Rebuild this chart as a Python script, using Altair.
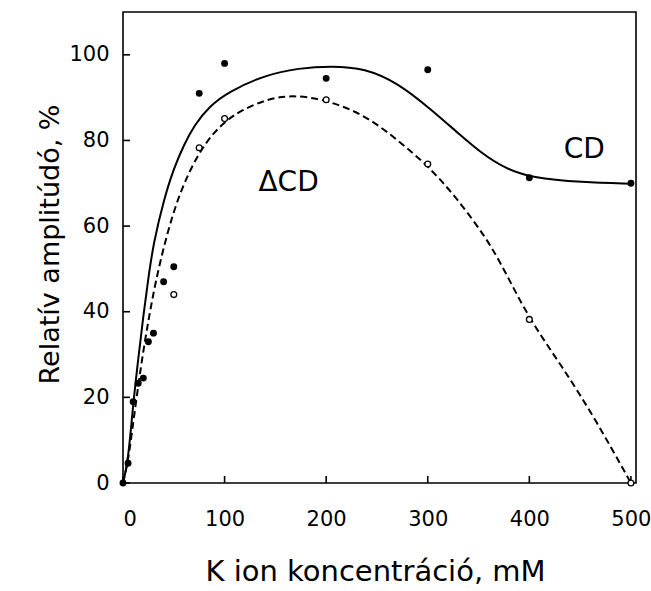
import altair as alt
import pandas as pd

# Measured points (K ion concentration, mM ; relative amplitude, %)
cd_x = [0, 5, 10, 15, 20, 25, 30, 40, 50, 75, 100, 200, 300, 400, 500]
cd_y = [0, 4.6, 19, 23.3, 24.5, 33, 35, 47, 50.5, 91, 98, 94.5, 96.5, 71.3, 70]

dcd_x = [50, 75, 100, 200, 300, 400, 500]
dcd_y = [44, 78.3, 85.1, 89.5, 74.5, 38.2, 0]

# Fitted curves
cd_curve_x = [0, 5, 10, 15, 20, 25, 30, 40, 50, 60, 70, 85, 104, 140, 173, 205,
              238, 271, 304, 330, 353, 376, 402, 452, 500]
cd_curve_y = [0, 5, 18.5, 29, 39, 48, 56, 66, 73.5, 79, 83.5, 88, 91.4, 95.3, 96.9,
              97.4, 96.9, 93.4, 87.1, 81.7, 77, 73.5, 71.3, 70.2, 69.9]

dcd_curve_x = [0, 5, 10, 18, 25, 32, 43, 56, 73, 88, 101, 116, 140, 166, 200, 238,
               271, 301, 327, 357, 375, 400, 433, 466, 500]
dcd_curve_y = [0, 5, 14, 28, 38, 47, 58, 68, 76.5, 81.5, 84.5, 87, 89.5, 90.7,
               89.5, 86, 80, 73.9, 67, 57.5, 50, 38.2, 27, 14.5, 0]

x_ticks = [0, 100, 200, 300, 400, 500]
y_ticks = [0, 20, 40, 60, 80, 100]

label_text = ["\u0394CD", "CD"]
label_x = [163, 454]
label_y = [70, 77.8]

FONT = "DejaVu Sans"
W, H = 513, 471
TICK = 7

xs = alt.Scale(domain=[0, 505], nice=False, zero=False)
ys = alt.Scale(domain=[0, 110], nice=False, zero=False)

x_axis = alt.Axis(values=x_ticks, ticks=False, tickSize=0, domain=False, grid=False,
                  labelFont=FONT, labelFontSize=21, labelColor="black", labelPadding=25,
                  labelBaseline="top",
                  title="K ion koncentráció, mM", titleFont=FONT, titleFontSize=29,
                  titleFontWeight="normal", titleColor="black",
                  titleBaseline="alphabetic", titleY=97, titleX=252)
y_axis = alt.Axis(values=y_ticks, ticks=False, tickSize=0, domain=False, grid=False,
                  labelFont=FONT, labelFontSize=21, labelColor="black", labelPadding=14,
                  title="Relatív amplitúdó, %", titleFont=FONT, titleFontSize=27,
                  titleFontWeight="normal", titleColor="black",
                  titleBaseline="alphabetic", titleX=-65, titleY=232)


def X(field="x"):
    return alt.X(f"{field}:Q", scale=xs, axis=x_axis, title="K ion koncentráció, mM")


def Y(field="y"):
    return alt.Y(f"{field}:Q", scale=ys, axis=y_axis, title="Relatív amplitúdó, %")


cd_pts = pd.DataFrame({"x": cd_x, "y": cd_y})
dcd_pts = pd.DataFrame({"x": dcd_x, "y": dcd_y})
cd_curve = pd.DataFrame({"x": cd_curve_x, "y": cd_curve_y})
dcd_curve = pd.DataFrame({"x": dcd_curve_x, "y": dcd_curve_y})
xt = pd.DataFrame({"x": x_ticks})
yt = pd.DataFrame({"y": y_ticks})
labels = pd.DataFrame({"x": label_x, "y": label_y, "t": label_text})

# inward-pointing ticks
xtick_layer = alt.Chart(xt).mark_rule(color="black", strokeWidth=1.6).encode(
    x=X(), y=alt.value(H), y2=alt.value(H - TICK))
ytick_layer = alt.Chart(yt).mark_tick(color="black", orient="horizontal", size=TICK,
                                      thickness=1.6, opacity=1).encode(
    y=Y(), x=alt.value(TICK / 2))

cd_line = alt.Chart(cd_curve).mark_line(color="black", strokeWidth=2,
                                        interpolate="basis").encode(x=X(), y=Y())
dcd_line = alt.Chart(dcd_curve).mark_line(color="black", strokeWidth=2, strokeDash=[7, 4],
                                          interpolate="basis").encode(x=X(), y=Y())

cd_points = alt.Chart(cd_pts).mark_point(shape="circle", filled=True, color="black",
                                         size=48, opacity=1).encode(x=X(), y=Y())
dcd_points = alt.Chart(dcd_pts).mark_point(shape="circle", filled=True, fill="white",
                                           stroke="black", strokeWidth=1.3, size=34,
                                           opacity=1).encode(x=X(), y=Y())

text_layer = alt.Chart(labels).mark_text(font=FONT, fontSize=28, color="black",
                                         align="center", baseline="middle").encode(
    x=X(), y=Y(), text="t:N")

chart = alt.layer(xtick_layer, ytick_layer, cd_line, dcd_line, cd_points, dcd_points,
                  text_layer).properties(
    width=W, height=H,
    autosize=alt.AutoSizeParams(type="none"),
    padding={"left": 123, "top": 12, "right": 15, "bottom": 108},
    background="white",
).configure_view(stroke="black", strokeWidth=1.6)

chart.save("out.html", embed_options={"renderer": "svg", "actions": False})
